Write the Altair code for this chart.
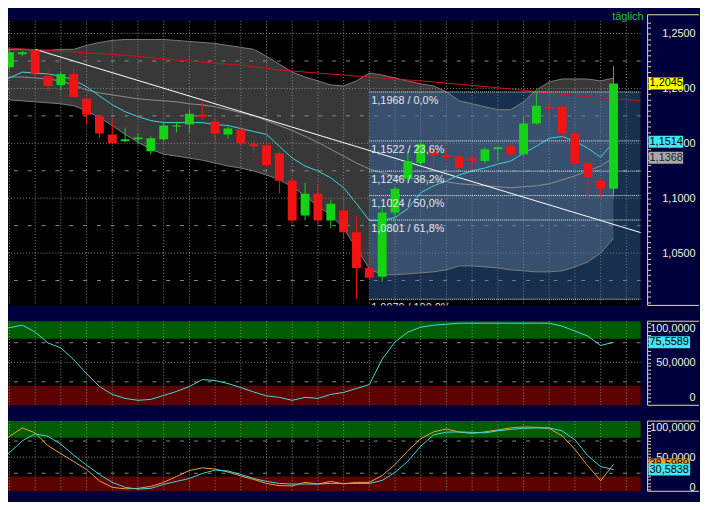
import altair as alt
import pandas as pd

FONT = "Liberation Sans"
NAVY = "#00003c"
AX_TEXT = "#f2f2dc"
AX_TICK = "#e6dca0"
BORDER = "#e6dcaa"
GRID = "#8a8a8a"
GREEN = "#14d214"
RED = "#f01414"

X_MIN, X_MAX = -0.115, 49.115

# ---------------- price candles (index, OHLC) ----------------
candle_idx = list(range(48))
c_open = [1.2194, 1.2311, 1.2347, 1.2113, 1.2032, 1.2131, 1.1905, 1.1752, 1.1581, 1.1518,
          1.1536, 1.1428, 1.1536, 1.1653, 1.1671, 1.1761, 1.1698, 1.1581, 1.1626, 1.1491,
          1.1482, 1.1410, 1.1158, 1.0842, 1.1041, 1.0797, 1.0887, 1.0689, 1.0365, 1.0284,
          1.0869, 1.1176, 1.1320, 1.1428, 1.1392, 1.1383, 1.1365, 1.1338, 1.1446, 1.1473,
          1.1401, 1.1680, 1.1833, 1.1833, 1.1590, 1.1320, 1.1158, 1.1086]
c_high = [1.2356, 1.2347, 1.2356, 1.2167, 1.2149, 1.2176, 1.1923, 1.1761, 1.1725, 1.1644,
          1.1590, 1.1563, 1.1689, 1.1698, 1.1806, 1.1878, 1.1725, 1.1653, 1.1644, 1.1527,
          1.1500, 1.1428, 1.1194, 1.1140, 1.1131, 1.0986, 1.0986, 1.0833, 1.0491, 1.0914,
          1.1104, 1.1428, 1.1518, 1.1563, 1.1428, 1.1401, 1.1401, 1.1464, 1.1473, 1.1500,
          1.1743, 1.1968, 1.1896, 1.1851, 1.1608, 1.1356, 1.1185, 1.2203]
c_low = [1.2167, 1.2293, 1.2104, 1.1977, 1.1986, 1.1914, 1.1671, 1.1545, 1.1491, 1.1509,
         1.1491, 1.1401, 1.1518, 1.1599, 1.1599, 1.1716, 1.1518, 1.1545, 1.1482, 1.1410,
         1.1284, 1.1041, 1.0779, 1.0797, 1.0752, 1.0725, 1.0626, 1.0079, 1.0257, 1.0239,
         1.0689, 1.1131, 1.1293, 1.1275, 1.1338, 1.1257, 1.1266, 1.1320, 1.1338, 1.1383,
         1.1383, 1.1671, 1.1752, 1.1536, 1.1302, 1.1005, 1.1014, 1.1010]
c_close = [1.2329, 1.2329, 1.2140, 1.2023, 1.2131, 1.1923, 1.1761, 1.1590, 1.1500, 1.1536,
           1.1554, 1.1545, 1.1662, 1.1662, 1.1770, 1.1743, 1.1590, 1.1635, 1.1500, 1.1473,
           1.1302, 1.1158, 1.0797, 1.1041, 1.0797, 1.0950, 1.0689, 1.0365, 1.0275, 1.0869,
           1.1086, 1.1338, 1.1491, 1.1392, 1.1374, 1.1275, 1.1338, 1.1446, 1.1464, 1.1401,
           1.1680, 1.1842, 1.1815, 1.1590, 1.1320, 1.1194, 1.1086, 1.2045]

# ---------------- overlays on the price panel (index -1 .. 47) ----------------
line_idx = list(range(-1, 48))
ma_fast = [1.2059, 1.2095, 1.2149, 1.2140, 1.2131, 1.2113, 1.2077, 1.2014, 1.1932, 1.1851,
           1.1788, 1.1743, 1.1707, 1.1689, 1.1689, 1.1689, 1.1689, 1.1671, 1.1662, 1.1635,
           1.1608, 1.1581, 1.1473, 1.1365, 1.1293, 1.1248, 1.1185, 1.1095, 1.0950, 1.0797,
           1.0797, 1.0824, 1.0905, 1.1050, 1.1113, 1.1158, 1.1212, 1.1248, 1.1275, 1.1311,
           1.1338, 1.1410, 1.1473, 1.1545, 1.1563, 1.1518, 1.1455, 1.1374, 1.1514]
ma_mid = [1.2104, 1.2104, 1.2104, 1.2095, 1.2086, 1.2068, 1.2032, 1.1986, 1.1959, 1.1941,
          1.1923, 1.1905, 1.1896, 1.1887, 1.1878, 1.1860, 1.1851, 1.1833, 1.1806, 1.1779,
          1.1752, 1.1707, 1.1662, 1.1617, 1.1563, 1.1509, 1.1446, 1.1383, 1.1320, 1.1266,
          1.1230, 1.1203, 1.1185, 1.1167, 1.1158, 1.1149, 1.1131, 1.1122, 1.1113, 1.1104,
          1.1095, 1.1104, 1.1113, 1.1131, 1.1167, 1.1203, 1.1248, 1.1293, 1.1368]
bb_upper = [1.2356, 1.2356, 1.2356, 1.2347, 1.2347, 1.2356, 1.2356, 1.2392, 1.2419, 1.2437,
            1.2446, 1.2446, 1.2446, 1.2446, 1.2437, 1.2428, 1.2419, 1.2410, 1.2392, 1.2374,
            1.2356, 1.2293, 1.2221, 1.2149, 1.2104, 1.2068, 1.2032, 1.2023, 1.2068, 1.2140,
            1.2122, 1.2095, 1.2068, 1.2041, 1.2023, 1.1968, 1.1887, 1.1860, 1.1833, 1.1806,
            1.1806, 1.1878, 1.1986, 1.2059, 1.2086, 1.2086, 1.2086, 1.2068, 1.2095]
bb_lower = [1.1905, 1.1896, 1.1887, 1.1878, 1.1869, 1.1860, 1.1842, 1.1797, 1.1734, 1.1662,
            1.1581, 1.1509, 1.1446, 1.1401, 1.1383, 1.1365, 1.1347, 1.1320, 1.1293, 1.1275,
            1.1248, 1.1212, 1.1167, 1.1104, 1.1023, 1.0923, 1.0851, 1.0725, 1.0545, 1.0356,
            1.0302, 1.0302, 1.0311, 1.0320, 1.0329, 1.0347, 1.0383, 1.0383, 1.0374, 1.0365,
            1.0347, 1.0338, 1.0329, 1.0329, 1.0338, 1.0374, 1.0419, 1.0500, 1.0635]

ma_long_idx = [-1, 3, 9, 15, 18, 21, 27, 33, 39, 45, 49.3]
ma_long = [1.2374, 1.2347, 1.2302, 1.2239, 1.2212, 1.2167, 1.2113, 1.2059, 1.1995, 1.1923, 1.1887]

trend_idx = [2, 49.3]
trend_val = [1.2356, 1.0680]

fib_start = 28
fib_levels = [1.1968, 1.1522, 1.1246, 1.1024, 1.0801, 1.0079]
fib_labels = ["1,1968 / 0,0%", "1,1522 / 23,6%", "1,1246 / 38,2%",
              "1,1024 / 50,0%", "1,0801 / 61,8%", "1,0079 / 100,0%"]

price_major = [1.05, 1.10, 1.15, 1.20, 1.25]
price_minor = [1.025, 1.075, 1.125, 1.175, 1.225]
price_ticks = [round(1.005 + 0.005 * k, 3) for k in range(52)]

price_marks = [1.2045, 1.1514, 1.1368]
price_mark_text = ["1,2045", "1,1514", "1,1368"]
price_mark_fill = ["#ffff00", "#40e8f0", "#a8a8a8"]
price_mark_ink = ["#000000", "#000000", "#1e1e1e"]

# ---------------- oscillator 1 ----------------
osc1 = [91.1, 94.3, 97.5, 88.6, 74.7, 68.4, 53.2, 35.4, 19.0, 8.9,
        3.8, 1.3, 2.5, 7.6, 12.7, 19.0, 27.8, 26.6, 22.8, 17.7,
        12.0, 7.0, 5.1, 1.3, 5.1, 3.8, 8.9, 11.4, 16.5, 21.5,
        54.0, 76.0, 88.6, 94.9, 97.5, 98.7, 100, 100, 100, 100,
        100, 100, 100, 100, 96.2, 89.9, 83.5, 71.5, 75.5589]
osc1_mark, osc1_text = 75.5589, "75,5589"

# ---------------- oscillator 2 (%K orange, %D cyan) ----------------
stoch_k = [63.1, 82.3, 95.4, 87.7, 67.7, 55.4, 43.1, 30.8, 13.1, 3.1,
           0.8, 1.5, 4.6, 10.8, 20.0, 29.2, 33.4, 31.5, 26.9, 20.8,
           15.4, 9.2, 5.7, 5.4, 10.8, 8.2, 12.3, 8.5, 10.8, 10.8,
           21.5, 38.5, 60.0, 78.5, 89.2, 93.8, 88.8, 86.9, 89.2, 92.3,
           95.4, 96.9, 96.2, 94.6, 83.1, 62.0, 36.5, 13.4, 38.5989]
stoch_d = [38.5, 56.9, 75.4, 86.2, 82.3, 70.0, 53.1, 37.7, 23.1, 10.8,
           3.1, 0.5, 1.5, 7.7, 12.3, 16.9, 24.6, 30.0, 28.5, 23.1,
           16.9, 12.3, 9.2, 8.2, 8.2, 8.2, 9.2, 9.2, 9.2, 9.2,
           13.8, 26.2, 43.8, 66.9, 84.6, 88.8, 89.2, 88.5, 87.7, 90.8,
           93.1, 94.6, 95.4, 95.4, 90.8, 76.9, 52.3, 35.4, 30.5838]
stoch_marks = [38.5989, 30.5838]
stoch_mark_text = ["38,5989", "30,5838"]
stoch_mark_fill = ["#ff9a1e", "#40e8f0"]

osc_ticks = list(range(0, 101, 5))

# ---------------- helpers ----------------
XS = alt.Scale(domain=[X_MIN, X_MAX], nice=False, zero=False, padding=0)


def xq(field):
    return alt.X(field, scale=XS, axis=None)


def make_y(domain, axis):
    sc = alt.Scale(domain=domain, nice=False, zero=False, padding=0)

    def yq(field):
        return alt.Y(field, scale=sc, axis=axis)
    return yq


def box_border(y_top, y_bot):
    one = pd.DataFrame({"a": [0]})
    base = alt.Chart(one).mark_rule(color=BORDER, strokeWidth=1)
    return [
        base.encode(x=alt.value(647), y=alt.value(y_top), y2=alt.value(y_bot)),
        base.encode(x=alt.value(647), x2=alt.value(699), y=alt.value(y_top)),
        base.encode(x=alt.value(647), x2=alt.value(699), y=alt.value(y_bot)),
    ]


def grid_layers(yq, major, minor):
    vg = alt.Chart(pd.DataFrame({"g": list(range(0, 50, 2))})).mark_rule(
        color=GRID, strokeDash=[1, 2], clip=True).encode(x=xq("g:Q"))
    hmaj = alt.Chart(pd.DataFrame({"g": major})).mark_rule(
        color=GRID, strokeDash=[1, 2], clip=True).encode(y=yq("g:Q"))
    hmin = alt.Chart(pd.DataFrame({"g": minor})).mark_rule(
        color=GRID, strokeDash=[4, 10], clip=True).encode(y=yq("g:Q"))
    return [vg, hmaj, hmin]


def axis_for(values, expr, top_shift=None, bottom_shift=None):
    kw = dict(
        orient="right", values=values, grid=False, domain=False, ticks=True,
        tickSize=3, tickColor=AX_TICK, labelColor=AX_TEXT, labelFont=FONT, labelFontSize=11,
        labelAlign="right", labelBaseline="middle", labelPadding=45, offset=7,
        labelOverlap=False, title=None, labelExpr=expr, zindex=0)
    if top_shift is not None:
        kw["labelOffset"] = {
            "condition": [
                {"test": "datum.value == 100", "value": top_shift},
                {"test": "datum.value == 0", "value": bottom_shift},
            ],
            "value": 0,
        }
    return alt.Axis(**kw)


# ---------------- main price panel ----------------
main_axis = axis_for(price_ticks,
                     "abs(datum.value*20 - round(datum.value*20)) < 0.001 ? "
                     "replace(format(datum.value, '.4f'), '.', ',') : ''")
ym = make_y([1.0023, 1.2617], main_axis)

lines_df = pd.DataFrame({"i": line_idx, "fast": ma_fast, "mid": ma_mid,
                         "upper": bb_upper, "lower": bb_lower})
candles_df = pd.DataFrame({"i": candle_idx, "open": c_open, "high": c_high,
                           "low": c_low, "close": c_close})
candles_df["col"] = [GREEN if c >= o else RED for o, c in zip(c_open, c_close)]
long_df = pd.DataFrame({"i": ma_long_idx, "v": ma_long})
trend_df = pd.DataFrame({"i": trend_idx, "v": trend_val})
fib_df = pd.DataFrame({"x0": fib_start, "x1": X_MAX, "level": fib_levels, "label": fib_labels})
fib_box = pd.DataFrame({"x0": [fib_start], "x1": [X_MAX],
                        "y0": [fib_levels[0]], "y1": [fib_levels[-1]]})
pm_df = pd.DataFrame({"v": price_marks, "t": price_mark_text,
                      "fill": price_mark_fill, "ink": price_mark_ink})
pm_df["lo"] = pm_df["v"] - 0.0054
pm_df["hi"] = pm_df["v"] + 0.0054

band = alt.Chart(lines_df).mark_area(color="#383838", clip=True).encode(
    x=xq("i:Q"), y=ym("upper:Q"), y2="lower:Q")
fib_rect = alt.Chart(fib_box).mark_rect(color="#3a72b8", opacity=0.42, clip=True).encode(
    x=xq("x0:Q"), x2="x1:Q", y=ym("y0:Q"), y2="y1:Q")
up_line = alt.Chart(lines_df).mark_line(color="#7c7c7c", strokeWidth=1, clip=True).encode(
    x=xq("i:Q"), y=ym("upper:Q"))
lo_line = alt.Chart(lines_df).mark_line(color="#7c7c7c", strokeWidth=1, clip=True).encode(
    x=xq("i:Q"), y=ym("lower:Q"))
long_line = alt.Chart(long_df).mark_line(color="#d01414", strokeWidth=1, clip=True).encode(
    x=xq("i:Q"), y=ym("v:Q"))
mid_line = alt.Chart(lines_df).mark_line(color="#8e8e8e", strokeWidth=1, clip=True).encode(
    x=xq("i:Q"), y=ym("mid:Q"))
trend_line = alt.Chart(trend_df).mark_line(color="#ffffff", strokeWidth=1, clip=True).encode(
    x=xq("i:Q"), y=ym("v:Q"))
fast_line = alt.Chart(lines_df).mark_line(color="#3cd4dc", strokeWidth=1, clip=True).encode(
    x=xq("i:Q"), y=ym("fast:Q"))
fib_lines = alt.Chart(fib_df).mark_rule(color="#f0f0f0", strokeDash=[1, 1], clip=True).encode(
    x=xq("x0:Q"), x2="x1:Q", y=ym("level:Q"))
wicks = alt.Chart(candles_df).mark_rule(strokeWidth=1, clip=True).encode(
    x=xq("i:Q"), y=ym("low:Q"), y2="high:Q", color=alt.Color("col:N", scale=None))
bodies = alt.Chart(candles_df).mark_bar(size=9, clip=True).encode(
    x=xq("i:Q"), y=ym("open:Q"), y2="close:Q", color=alt.Color("col:N", scale=None))
fib_text = alt.Chart(fib_df).mark_text(
    align="left", baseline="top", dx=2, dy=3, color="#e4e4ec", font=FONT, fontSize=11,
    clip=True).encode(x=xq("x0:Q"), y=ym("level:Q"), text="label:N")
pm_rect = alt.Chart(pm_df).mark_rect().encode(
    x=alt.value(648), x2=alt.value(683), y=ym("lo:Q"), y2="hi:Q",
    fill=alt.Fill("fill:N", scale=None))
pm_text = alt.Chart(pm_df).mark_text(align="left", baseline="middle", font=FONT, fontSize=11).encode(
    x=alt.value(649), y=ym("v:Q"), text="t:N", color=alt.Color("ink:N", scale=None))
title_text = alt.Chart(pd.DataFrame({"t": ["täglich"]})).mark_text(
    align="center", baseline="top", font=FONT, fontSize=11, color="#1ec81e").encode(
    x=alt.value(627), y=alt.value(-10), text="t:N")

main = alt.layer(
    band, *grid_layers(ym, price_major, price_minor), fib_rect, up_line, lo_line,
    long_line, mid_line, trend_line, fast_line, fib_lines, wicks, bodies, fib_text,
    *box_border(-6, 288), pm_rect, pm_text, title_text
).properties(width=640, height=288)


# ---------------- oscillator panels ----------------
def osc_panel(values_list, colors, domain, height, marks, mark_text, mark_fill,
              top_shift, bottom_shift):
    axis = axis_for(osc_ticks,
                    "datum.value == 0 ? '0' : (datum.value % 50 == 0 ? "
                    "replace(format(datum.value, '.4f'), '.', ',') : '')",
                    top_shift=top_shift, bottom_shift=bottom_shift)
    yq = make_y(domain, axis)
    zones = pd.DataFrame({"x0": [X_MIN, X_MIN], "x1": [X_MAX, X_MAX],
                          "y0": [80, domain[0]], "y1": [domain[1], 20],
                          "fill": ["#005c00", "#5c0000"]})
    zone = alt.Chart(zones).mark_rect().encode(
        x=xq("x0:Q"), x2="x1:Q", y=yq("y0:Q"), y2="y1:Q",
        fill=alt.Fill("fill:N", scale=None))
    layers = [zone] + grid_layers(yq, [50], [25, 75])
    for vals, col in zip(values_list, colors):
        df = pd.DataFrame({"i": line_idx, "v": vals})
        layers.append(alt.Chart(df).mark_line(color=col, strokeWidth=1, clip=True).encode(
            x=xq("i:Q"), y=yq("v:Q")))
    layers += box_border(0, height)
    half = 6.0 * (domain[1] - domain[0]) / height
    mdf = pd.DataFrame({"v": marks, "t": mark_text, "fill": mark_fill})
    mdf["lo"] = mdf["v"] - half
    mdf["hi"] = mdf["v"] + half
    for k in range(len(mdf)):
        one = mdf.iloc[[k]]
        layers.append(alt.Chart(one).mark_rect().encode(
            x=alt.value(648), x2=alt.value(690), y=yq("lo:Q"), y2="hi:Q",
            fill=alt.Fill("fill:N", scale=None)))
        layers.append(alt.Chart(one).mark_text(
            align="left", baseline="middle", font=FONT, fontSize=11, color="#000000").encode(
            x=alt.value(649), y=yq("v:Q"), text="t:N"))
    return alt.layer(*layers).properties(width=640, height=height)


p2 = osc_panel([osc1], ["#40e0d4"], [-5, 102.5], 85, [osc1_mark], [osc1_text],
               ["#40e8f0"], 5, -4)
p3 = osc_panel([stoch_k, stoch_d], ["#f0a040", "#40d8e0"], [-3, 106], 71,
               stoch_marks, stoch_mark_text, stoch_mark_fill, 3, -2)

chart = alt.vconcat(main, p2, p3, spacing=16, bounds="flush").properties(
    padding={"left": 0, "top": 0, "right": 0, "bottom": 6},
    background=NAVY,
).configure_view(fill="#000000", stroke=None)

chart.save("out.html", embed_options={"renderer": "svg", "actions": False})
